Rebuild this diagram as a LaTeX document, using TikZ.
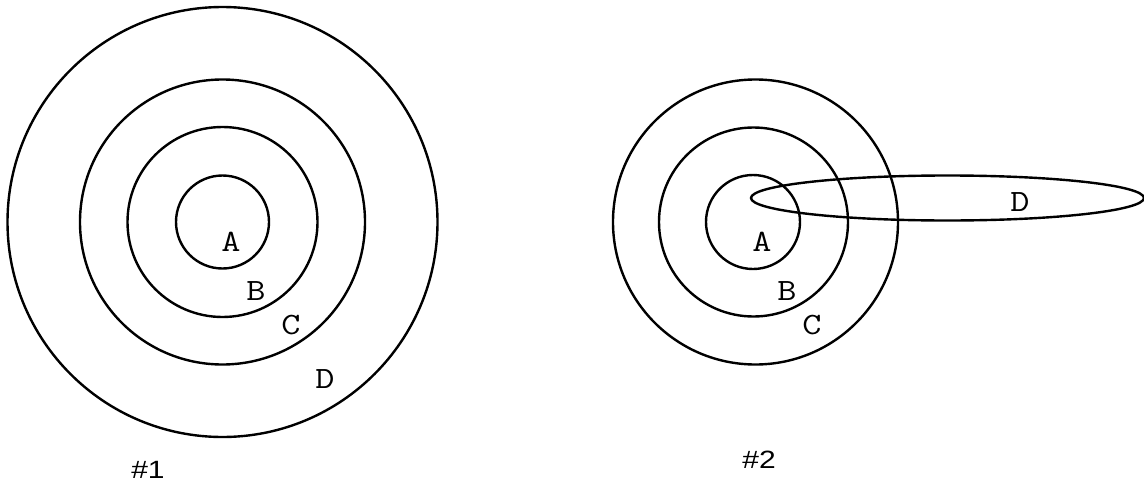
\documentclass[tikz,border=0pt]{standalone}
\usepackage{fontspec}
\setmainfont{Liberation Sans}
\newcommand{\lblwide}[1]{\scalebox{1.2}[1]{#1}}
\newcommand{\capwide}[1]{\scalebox{1.2}[1]{#1}}
\begin{document}
\begin{tikzpicture}[x=1pt,y=-1pt,
  ring/.style={draw=black,line width=2.4pt},
  lbl/.style={font=\ttfamily\fontsize{31}{31}\selectfont,inner sep=0pt},
  captext/.style={font=\fontsize{25}{25}\selectfont,inner sep=0pt}]
\useasboundingbox (0,0) rectangle (1144,482);
% diagram 1
\draw[ring] (222.5,222) circle[radius=215];
\draw[ring] (222.5,222) circle[radius=142.5];
\draw[ring] (222.5,222) circle[radius=95];
\draw[ring] (222.5,222) circle[radius=46.5];
\node[lbl] (a1) at (231,242) {\lblwide{A}};
\node[lbl] (b1) at (256,291) {\lblwide{B}};
\node[lbl] (c1) at (291,325) {\lblwide{C}};
\node[lbl] (d1) at (325,379) {\lblwide{D}};
\node[captext] (n1) at (148,470) {\capwide{\#1}};
% diagram 2
\draw[ring] (755.5,222) circle[radius=142.5];
\draw[ring] (753.5,222) circle[radius=94.5];
\draw[ring] (753,222) circle[radius=47];
\draw[ring] (947.5,198) ellipse[x radius=196.5,y radius=22.5];
\node[lbl] (a2) at (762,242) {\lblwide{A}};
\node[lbl] (b2) at (787,291) {\lblwide{B}};
\node[lbl] (c2) at (812,325) {\lblwide{C}};
\node[lbl] (d2) at (1020,202) {\lblwide{D}};
\node[captext] (n2) at (759,460) {\capwide{\#2}};
\end{tikzpicture}
\end{document}
